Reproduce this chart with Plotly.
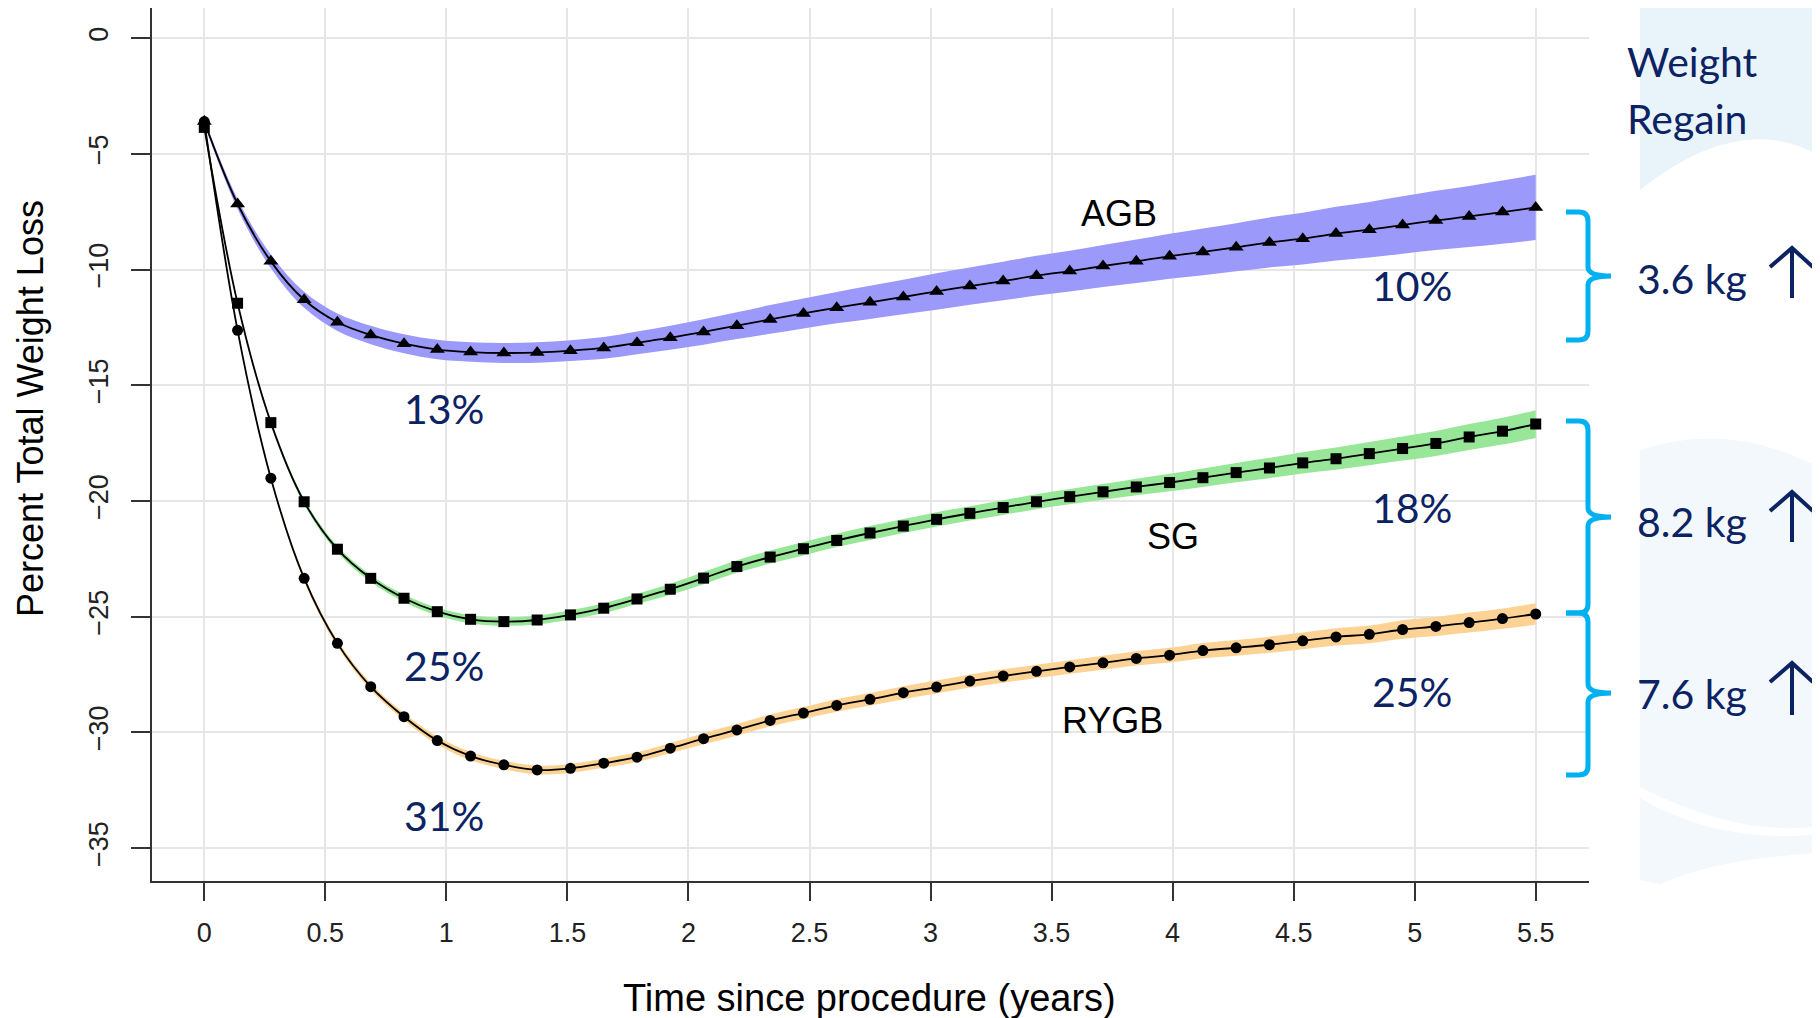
import plotly.graph_objects as go

# ---------------- data ----------------
years = [0.0, 0.1375, 0.275, 0.4125, 0.55, 0.6875, 0.825, 0.9625, 1.1, 1.2375,
         1.375, 1.5125, 1.65, 1.7875, 1.925, 2.0625, 2.2, 2.3375, 2.475, 2.6125,
         2.75, 2.8875, 3.025, 3.1625, 3.3, 3.4375, 3.575, 3.7125, 3.85, 3.9875,
         4.125, 4.2625, 4.4, 4.5375, 4.675, 4.8125, 4.95, 5.0875, 5.225, 5.3625, 5.5]

agb = [-3.60, -7.16, -9.64, -11.30, -12.27, -12.82, -13.20, -13.45, -13.56, -13.60,
       -13.58, -13.50, -13.38, -13.16, -12.94, -12.69, -12.42, -12.15, -11.89, -11.64,
       -11.41, -11.18, -10.94, -10.71, -10.49, -10.26, -10.06, -9.84, -9.64, -9.42,
       -9.23, -9.03, -8.82, -8.66, -8.44, -8.27, -8.07, -7.87, -7.70, -7.51, -7.31]
agb_hw = [0.10, 0.22, 0.30, 0.35, 0.38, 0.40, 0.41, 0.42, 0.42, 0.43,
          0.44, 0.45, 0.47, 0.49, 0.52, 0.55, 0.58, 0.62, 0.65, 0.68,
          0.72, 0.75, 0.79, 0.81, 0.83, 0.86, 0.88, 0.91, 0.94, 0.97,
          1.01, 1.04, 1.08, 1.12, 1.16, 1.20, 1.24, 1.28, 1.32, 1.37, 1.41]

sg = [-3.85, -11.45, -16.61, -20.03, -22.08, -23.34, -24.20, -24.78, -25.11, -25.21,
      -25.14, -24.92, -24.63, -24.23, -23.81, -23.33, -22.83, -22.42, -22.06, -21.70,
      -21.38, -21.08, -20.79, -20.53, -20.28, -20.03, -19.81, -19.60, -19.39, -19.20,
      -18.99, -18.77, -18.57, -18.35, -18.17, -17.95, -17.73, -17.51, -17.23, -16.98, -16.67]
sg_hw = [0.05, 0.08, 0.10, 0.12, 0.14, 0.15, 0.16, 0.17, 0.18, 0.18,
         0.19, 0.20, 0.21, 0.22, 0.24, 0.26, 0.27, 0.28, 0.29, 0.29,
         0.30, 0.30, 0.31, 0.31, 0.32, 0.32, 0.33, 0.34, 0.36, 0.38,
         0.40, 0.42, 0.44, 0.46, 0.48, 0.50, 0.52, 0.54, 0.56, 0.58, 0.60]

rygb = [-3.60, -12.62, -19.01, -23.34, -26.15, -28.02, -29.32, -30.35, -31.02, -31.40,
        -31.62, -31.55, -31.33, -31.07, -30.68, -30.27, -29.89, -29.48, -29.16, -28.83,
        -28.57, -28.28, -28.04, -27.78, -27.56, -27.36, -27.17, -26.99, -26.80, -26.66,
        -26.46, -26.34, -26.21, -26.04, -25.87, -25.76, -25.55, -25.42, -25.25, -25.08, -24.88]
rygb_hw = [0.05, 0.08, 0.10, 0.12, 0.14, 0.15, 0.16, 0.17, 0.18, 0.18,
           0.19, 0.19, 0.20, 0.21, 0.22, 0.24, 0.25, 0.26, 0.26, 0.27,
           0.27, 0.28, 0.28, 0.28, 0.29, 0.29, 0.29, 0.30, 0.31, 0.32,
           0.33, 0.34, 0.35, 0.36, 0.37, 0.38, 0.40, 0.41, 0.43, 0.44, 0.46]

series_names = ["AGB", "SG", "RYGB"]
x_ticks = [0, 0.5, 1, 1.5, 2, 2.5, 3, 3.5, 4, 4.5, 5, 5.5]
x_ticktext = ["0", "0.5", "1", "1.5", "2", "2.5", "3", "3.5", "4", "4.5", "5", "5.5"]
y_ticks = [0, -5, -10, -15, -20, -25, -30, -35]
y_ticktext = ["0", "\u22125", "\u221210", "\u221215", "\u221220", "\u221225", "\u221230", "\u221235"]

loss_labels = ["13%", "25%", "31%"]
final_labels = ["10%", "18%", "25%"]
regain_labels = ["3.6 kg", "8.2 kg", "7.6 kg"]

# ---------------- styling ----------------
OFF = 8                      # page body margin
W, H = 1820 - OFF, 1018 - OFF
L, R, T, B = 152, 1589, 8, 881     # plot area in page pixels
NAVY = "#0B2263"
CYAN = "#00B0F0"
band_colors = {"AGB": "#9B99FA", "SG": "#98E698", "RYGB": "#FCD394"}
symbols = {"AGB": ("triangle-up", 13), "SG": ("square", 11), "RYGB": ("circle", 11)}
data = {"AGB": (agb, agb_hw), "SG": (sg, sg_hw), "RYGB": (rygb, rygb_hw)}


def pxx(x):
    return (x - L) / (R - L)


def pxy(y):
    return (B - y) / (B - T)


def path(cmds):
    out = []
    for c in cmds:
        if isinstance(c, str):
            out.append(c)
        else:
            out.append("%.5f,%.5f" % (pxx(c[0]), pxy(c[1])))
    return " ".join(out)


fig = go.Figure()

for name in series_names:
    vals, hw = data[name]
    upper = [v + h for v, h in zip(vals, hw)]
    lower = [v - h for v, h in zip(vals, hw)]
    fig.add_trace(go.Scatter(x=years, y=upper, mode="lines",
                             line=dict(width=0, shape="spline", color=band_colors[name]),
                             hoverinfo="skip", showlegend=False))
    fig.add_trace(go.Scatter(x=years, y=lower, mode="lines", fill="tonexty",
                             fillcolor=band_colors[name],
                             line=dict(width=0, shape="spline", color=band_colors[name]),
                             hoverinfo="skip", showlegend=False))

for name in series_names:
    vals, _ = data[name]
    sym, size = symbols[name]
    fig.add_trace(go.Scatter(x=years, y=vals, mode="lines+markers", name=name,
                             line=dict(color="black", width=1.8, shape="spline"),
                             marker=dict(symbol=sym, size=size, color="black"),
                             showlegend=False))

shapes = []
# decorative background on the right
shapes.append(dict(type="path", xref="paper", yref="paper", layer="below",
                   path=path(["M", (1640, 8), "L", (1820, 8), "L", (1820, 156),
                              "Q", (1740, 110), (1640, 190), "Z"]),
                   fillcolor="#E8F3FA", line=dict(width=0)))
shapes.append(dict(type="path", xref="paper", yref="paper", layer="below",
                   path=path(["M", (1640, 450), "Q", (1730, 420), (1820, 468), "L", (1820, 826),
                              "Q", (1740, 838), (1640, 787), "Z"]),
                   fillcolor="#F3F8FC", line=dict(width=0)))
shapes.append(dict(type="path", xref="paper", yref="paper", layer="below",
                   path=path(["M", (1640, 798), "Q", (1720, 845), (1820, 834), "L", (1820, 853),
                              "Q", (1720, 858), (1660, 884), "L", (1640, 880), "Z"]),
                   fillcolor="#F3F8FC", line=dict(width=0)))


def brace(yt, ym, yb, x0=1566, xs=1588, xt=1611, r=9):
    return path(["M", (x0, yt), "L", (xs - r, yt), "Q", (xs, yt), (xs, yt + r),
                 "L", (xs, ym - r), "Q", (xs, ym), (xt, ym),
                 "Q", (xs, ym), (xs, ym + r), "L", (xs, yb - r),
                 "Q", (xs, yb), (xs - r, yb), "L", (x0, yb)])


for (yt, ym, yb) in [(212, 276, 340), (421, 517, 613), (613, 693, 775)]:
    shapes.append(dict(type="path", xref="paper", yref="paper", path=brace(yt, ym, yb),
                       line=dict(color=CYAN, width=5)))

for (ya, yb2) in [(248, 298), (492, 542), (663, 715)]:
    shapes.append(dict(type="path", xref="paper", yref="paper",
                       path=path(["M", (1770, ya + 19), "L", (1792, ya), "L", (1813, ya + 19),
                                  "M", (1792, ya), "L", (1792, yb2)]),
                       line=dict(color=NAVY, width=4)))

annotations = []
# curve labels
for text, x, y in [("AGB", 3.78, -7.55), ("SG", 4.0, -21.55), ("RYGB", 3.75, -29.5)]:
    annotations.append(dict(x=x, y=y, xref="x", yref="y", text=text, showarrow=False,
                            font=dict(family="Liberation Sans, Arial", size=36, color="black"),
                            xanchor="center", yanchor="middle"))
# percent labels
for text, y in zip(loss_labels, [-15.98, -27.1, -33.58]):
    annotations.append(dict(x=0.99, y=y, xref="x", yref="y", text=text, showarrow=False,
                            font=dict(family="Lato", size=41, color=NAVY),
                            xanchor="center", yanchor="middle"))
for text, y in zip(final_labels, [-10.69, -20.26, -28.25]):
    annotations.append(dict(x=4.99, y=y, xref="x", yref="y", text=text, showarrow=False,
                            font=dict(family="Lato", size=41, color=NAVY),
                            xanchor="center", yanchor="middle"))
# right panel text
for text, y in [("Weight", 61), ("Regain", 118)]:
    annotations.append(dict(x=pxx(1625), y=pxy(y), xref="paper", yref="paper", text=text,
                            showarrow=False, font=dict(family="Lato", size=41, color=NAVY),
                            xanchor="left", yanchor="middle"))
for text, y in zip(regain_labels, [278, 521, 693]):
    annotations.append(dict(x=pxx(1635), y=pxy(y), xref="paper", yref="paper", text=text,
                            showarrow=False, font=dict(family="Lato", size=41, color=NAVY),
                            xanchor="left", yanchor="middle"))
# axis titles
annotations.append(dict(x=pxx(869), y=pxy(998), xref="paper", yref="paper",
                        text="Time since procedure (years)", showarrow=False,
                        font=dict(family="Liberation Sans, Arial", size=38, color="black"),
                        xanchor="center", yanchor="middle"))
annotations.append(dict(x=pxx(30), y=pxy(409), xref="paper", yref="paper",
                        text="Percent Total Weight Loss", showarrow=False, textangle=-90,
                        font=dict(family="Liberation Sans, Arial", size=36, color="black"),
                        xanchor="center", yanchor="middle"))

fig.update_layout(
    width=W, height=H,
    margin=dict(l=L - OFF, r=1820 - R, t=T - OFF, b=1018 - B, pad=0),
    plot_bgcolor="white", paper_bgcolor="white",
    showlegend=False,
    shapes=shapes, annotations=annotations,
    xaxis=dict(range=[-0.216, 5.72], tickvals=x_ticks, ticktext=x_ticktext,
               showgrid=True, gridcolor="#E6E6E6", gridwidth=1.5, zeroline=False,
               showline=True, linecolor="#333333", linewidth=2,
               ticks="outside", ticklen=18, tickwidth=2, tickcolor="#333333",
               ticklabelstandoff=9,
               tickfont=dict(family="Liberation Sans, Arial", size=27, color="#222222")),
    yaxis=dict(range=[-36.42, 1.31], tickvals=y_ticks, ticktext=y_ticktext,
               showgrid=True, gridcolor="#E6E6E6", gridwidth=1.5, zeroline=False,
               showline=True, linecolor="#333333", linewidth=2,
               ticks="outside", ticklen=19, tickwidth=2, tickcolor="#333333", tickangle=-90,
               ticklabelstandoff=12,
               tickfont=dict(family="Liberation Sans, Arial", size=27, color="#222222")),
)

fig.write_html("out.html")
